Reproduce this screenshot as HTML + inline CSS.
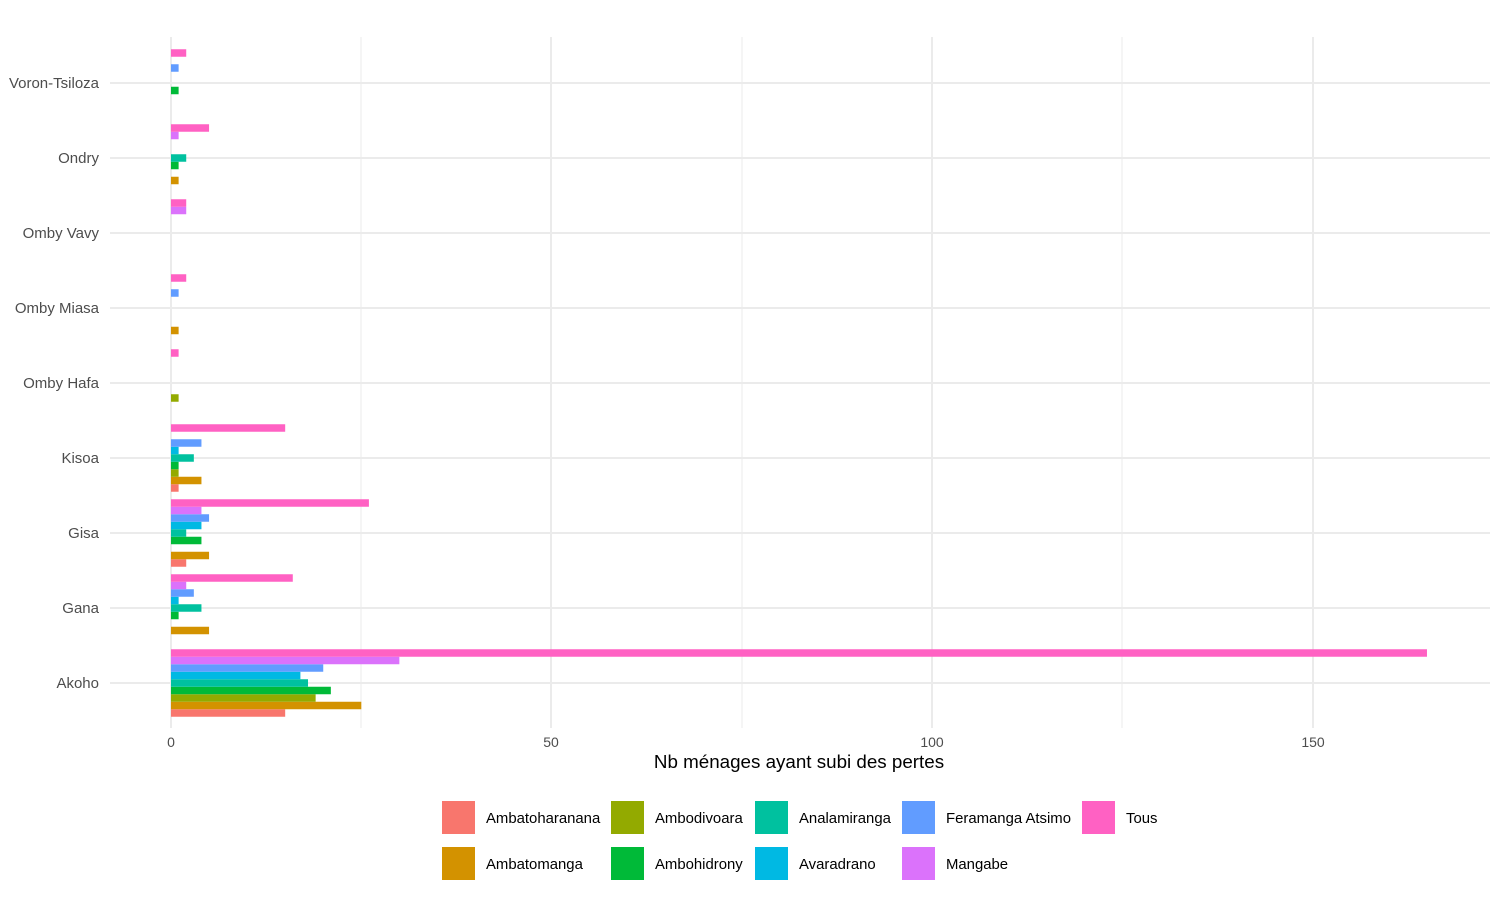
<!DOCTYPE html>
<html><head><meta charset="utf-8"><style>body{margin:0;background:#fff}svg{display:block}text{font-family:"Liberation Sans",Arial,sans-serif}</style></head><body>
<svg width="1500" height="900" xmlns="http://www.w3.org/2000/svg">
<g stroke="#ebebeb" stroke-width="1">
<line x1="361" y1="37" x2="361" y2="728"/><line x1="742" y1="37" x2="742" y2="728"/><line x1="1122" y1="37" x2="1122" y2="728"/>
</g>
<g stroke="#ebebeb" stroke-width="2">
<line x1="171" y1="37" x2="171" y2="728"/><line x1="551" y1="37" x2="551" y2="728"/><line x1="932" y1="37" x2="932" y2="728"/><line x1="1313" y1="37" x2="1313" y2="728"/>
<line x1="110" y1="83" x2="1490" y2="83"/><line x1="110" y1="158" x2="1490" y2="158"/><line x1="110" y1="233" x2="1490" y2="233"/><line x1="110" y1="308" x2="1490" y2="308"/><line x1="110" y1="383" x2="1490" y2="383"/><line x1="110" y1="458" x2="1490" y2="458"/><line x1="110" y1="533" x2="1490" y2="533"/><line x1="110" y1="608" x2="1490" y2="608"/><line x1="110" y1="683" x2="1490" y2="683"/>
</g>
<g id="bars"></g>
<g font-size="15" fill="#4d4d4d" text-anchor="end">
<text x="99" y="88">Voron-Tsiloza</text><text x="99" y="163">Ondry</text><text x="99" y="238">Omby Vavy</text><text x="99" y="313">Omby Miasa</text><text x="99" y="388">Omby Hafa</text><text x="99" y="463">Kisoa</text><text x="99" y="538">Gisa</text><text x="99" y="613">Gana</text><text x="99" y="688">Akoho</text>
</g>
<g font-size="14" fill="#4d4d4d" text-anchor="middle">
<text x="171" y="747">0</text><text x="551" y="747">50</text><text x="932" y="747">100</text><text x="1313" y="747">150</text>
</g>
<text x="799" y="768" font-size="18.8" text-anchor="middle" fill="#000">Nb ménages ayant subi des pertes</text>
<g font-size="14.9" fill="#000">
<rect x="442" y="801" width="33" height="33" fill="#F8766D"/><text x="486" y="823">Ambatoharanana</text>
<rect x="442" y="847" width="33" height="33" fill="#D39200"/><text x="486" y="869">Ambatomanga</text>
<rect x="611" y="801" width="33" height="33" fill="#93AA00"/><text x="655" y="823">Ambodivoara</text>
<rect x="611" y="847" width="33" height="33" fill="#00BA38"/><text x="655" y="869">Ambohidrony</text>
<rect x="755" y="801" width="33" height="33" fill="#00C19F"/><text x="799" y="823">Analamiranga</text>
<rect x="755" y="847" width="33" height="33" fill="#00B9E3"/><text x="799" y="869">Avaradrano</text>
<rect x="902" y="801" width="33" height="33" fill="#619CFF"/><text x="946" y="823">Feramanga Atsimo</text>
<rect x="902" y="847" width="33" height="33" fill="#DB72FB"/><text x="946" y="869">Mangabe</text>
<rect x="1082" y="801" width="33" height="33" fill="#FF61C3"/><text x="1126" y="823">Tous</text>
</g>
</svg>
<script>
var cols=["#F8766D","#D39200","#93AA00","#00BA38","#00C19F","#00B9E3","#619CFF","#DB72FB","#FF61C3"];
var data={683:[15,25,19,21,18,17,20,30,165],608:[0,5,0,1,4,1,3,2,16],533:[2,5,0,4,2,4,5,4,26],458:[1,4,1,1,3,1,4,0,15],383:[0,0,1,0,0,0,0,0,1],308:[0,1,0,0,0,0,1,0,2],233:[0,0,0,0,0,0,0,2,2],158:[0,1,0,1,2,0,0,1,5],83:[0,0,0,1,0,0,1,0,2]};
var g=document.getElementById("bars"),s="";
for(var c in data){var v=data[c];for(var i=0;i<9;i++){if(!v[i])continue;var y=+c+33.75-7.5*(i+1);s+='<rect x="171" y="'+y+'" width="'+(v[i]*7.612)+'" height="7.5" fill="'+cols[i]+'"/>';}}
g.innerHTML=s;
</script>
</body></html>
